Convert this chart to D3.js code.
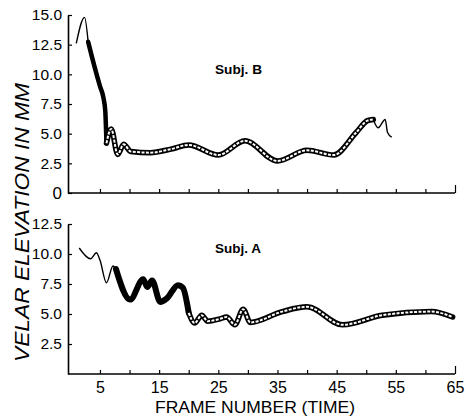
<!DOCTYPE html>
<html>
<head>
<meta charset="utf-8">
<script src="https://cdn.jsdelivr.net/npm/d3@7"></script>
<style>
  body { margin: 0; background: #fff; }
  text { font-family: "Liberation Sans", Arial, sans-serif; fill: #000; }
</style>
</head>
<body>
<script>
const svgWidth = 466;
const svgHeight = 418;

// Subj. B (upper panel)
const subjBFrames = [1.0, 2.4, 3.0, 4.0, 5.0, 5.6, 5.9, 6.1, 6.9, 8.0, 9.0, 10.2, 13.5, 17, 20, 25, 29.5, 35, 40, 44.5, 48.3, 50.2, 51.2, 52.0, 53.2, 53.6, 54.3];
const subjBValues = [12.6, 14.8, 12.75, 10.8, 9.0, 8.0, 6.9, 4.2, 5.4, 3.25, 4.1, 3.5, 3.4, 3.7, 4.05, 3.2, 4.4, 2.7, 3.6, 3.2, 5.1, 6.1, 6.2, 5.5, 6.2, 5.1, 4.7];

// Subj. A (lower panel)
const subjAFrames = [1.5, 3.4, 4.4, 5.0, 6.1, 7.2, 7.7, 10.1, 12.3, 13.0, 13.8, 15.2, 16.3, 18.2, 19.0, 20.0, 21.0, 22.2, 23.2, 25.3, 26.4, 27.8, 29.2, 30.4, 35.8, 40.0, 46.0, 52.7, 61.0, 64.6];
const subjAValues = [10.5, 9.6, 10.1, 9.5, 7.6, 9.0, 8.75, 6.2, 7.9, 7.25, 7.8, 6.0, 6.3, 7.4, 7.2, 5.1, 4.25, 4.9, 4.4, 4.6, 4.75, 4.1, 5.4, 4.3, 5.2, 5.6, 4.1, 4.9, 5.2, 4.75];

// which stretch of each trace is drawn how (point index ranges)
const subjBSegments = [["thin", 0, 2], ["band", 2, 7], ["chain", 7, 22], ["thin", 22, 26]];
const subjASegments = [["thin", 0, 6], ["band", 6, 15], ["chain", 15, 29]];

const xTicks = [5, 10, 15, 20, 25, 30, 35, 40, 45, 50, 55, 60, 65];
const xTickLabels = [5, 15, 25, 35, 45, 55, 65];
const yTicksB = [0, 2.5, 5, 7.5, 10, 12.5, 15];
const yTicksA = [2.5, 5, 7.5, 10, 12.5];

const svg = d3.select("body").append("svg")
  .attr("width", svgWidth)
  .attr("height", svgHeight);

svg.append("rect").attr("width", svgWidth).attr("height", svgHeight).attr("fill", "#fff");

const x = d3.scaleLinear().domain([-0.4, 65]).range([68, 455]);
const yB = d3.scaleLinear().domain([0, 15]).range([193, 15]);
const yA = d3.scaleLinear().domain([0, 12.5]).range([374, 224]);

function drawPanel(yScale, yTicks, axisY, frames, values, segments, showLabels) {
  const g = svg.append("g");

  const xAxis = d3.axisBottom(x)
    .tickValues(xTicks)
    .tickSize(-4)
    .tickSizeOuter(0)
    .tickPadding(8)
    .tickFormat(d => (showLabels && xTickLabels.includes(d)) ? d : "");

  const xg = g.append("g")
    .attr("transform", `translate(0,${axisY})`)
    .call(xAxis);
  xg.select(".domain").attr("stroke-width", 1.6).attr("d", `M${x.range()[0]},0H${x.range()[1]}`);
  xg.selectAll(".tick line").attr("stroke-width", 1.2);
  xg.selectAll(".tick").filter(d => d === 65).select("line").attr("y2", -8);
  xg.selectAll(".tick text").style("font-size", "16px");

  const yAxis = d3.axisLeft(yScale)
    .tickValues(yTicks)
    .tickSize(-4)
    .tickSizeOuter(0)
    .tickPadding(6)
    .tickFormat(d => d === 0 ? "0" : d.toFixed(1));

  const yg = g.append("g")
    .attr("transform", `translate(${x.range()[0]},0)`)
    .call(yAxis);
  yg.select(".domain").attr("stroke-width", 1.6);
  yg.selectAll(".tick line").attr("stroke-width", 1.2);
  yg.selectAll(".tick text").style("font-size", "15.5px");
  yg.selectAll(".tick").filter(d => d === 0).select("text").style("font-size", "17px");

  const pts = frames.map((f, i) => [f, values[i]]);
  const line = d3.line()
    .x(d => x(d[0]))
    .y(d => yScale(d[1]))
    .curve(d3.curveMonotoneX);

  segments.forEach(([style, from, to]) => {
    const part = pts.slice(from, to + 1);
    if (style === "thin") {
      g.append("path").attr("d", line(part))
        .attr("fill", "none").attr("stroke", "#000")
        .attr("stroke-width", 1.4).attr("stroke-linejoin", "round");
    } else if (style === "band") {
      g.append("path").attr("d", line(part))
        .attr("fill", "none").attr("stroke", "#000")
        .attr("stroke-width", yScale === yA ? 6 : 4.5)
        .attr("stroke-linejoin", "round").attr("stroke-linecap", "round");
    } else {
      g.append("path").attr("d", line(part))
        .attr("fill", "none").attr("stroke", "#000")
        .attr("stroke-width", 5.5).attr("stroke-linejoin", "round").attr("stroke-linecap", "round");
      g.append("path").attr("d", line(part))
        .attr("fill", "none").attr("stroke", "#fff")
        .attr("stroke-width", 2).attr("stroke-dasharray", "3,1.4");
    }
  });
}

drawPanel(yB, yTicksB, 193, subjBFrames, subjBValues, subjBSegments, false);
drawPanel(yA, yTicksA, 374, subjAFrames, subjAValues, subjASegments, true);

svg.append("text").attr("x", 215).attr("y", 74)
  .attr("textLength", 47).attr("lengthAdjust", "spacingAndGlyphs")
  .style("font-size", "13px").style("font-weight", "bold")
  .text("Subj. B");
svg.append("text").attr("x", 215).attr("y", 253)
  .attr("textLength", 46).attr("lengthAdjust", "spacingAndGlyphs")
  .style("font-size", "13px").style("font-weight", "bold")
  .text("Subj. A");

svg.append("text")
  .attr("x", 155).attr("y", 413)
  .attr("textLength", 200).attr("lengthAdjust", "spacingAndGlyphs")
  .style("font-size", "17px")
  .text("FRAME NUMBER (TIME)");

svg.append("text")
  .attr("transform", "translate(29,362) rotate(-90)")
  .attr("textLength", 279).attr("lengthAdjust", "spacingAndGlyphs")
  .style("font-size", "21px").style("font-style", "italic")
  .text("VELAR ELEVATION IN MM");
</script>
</body>
</html>
